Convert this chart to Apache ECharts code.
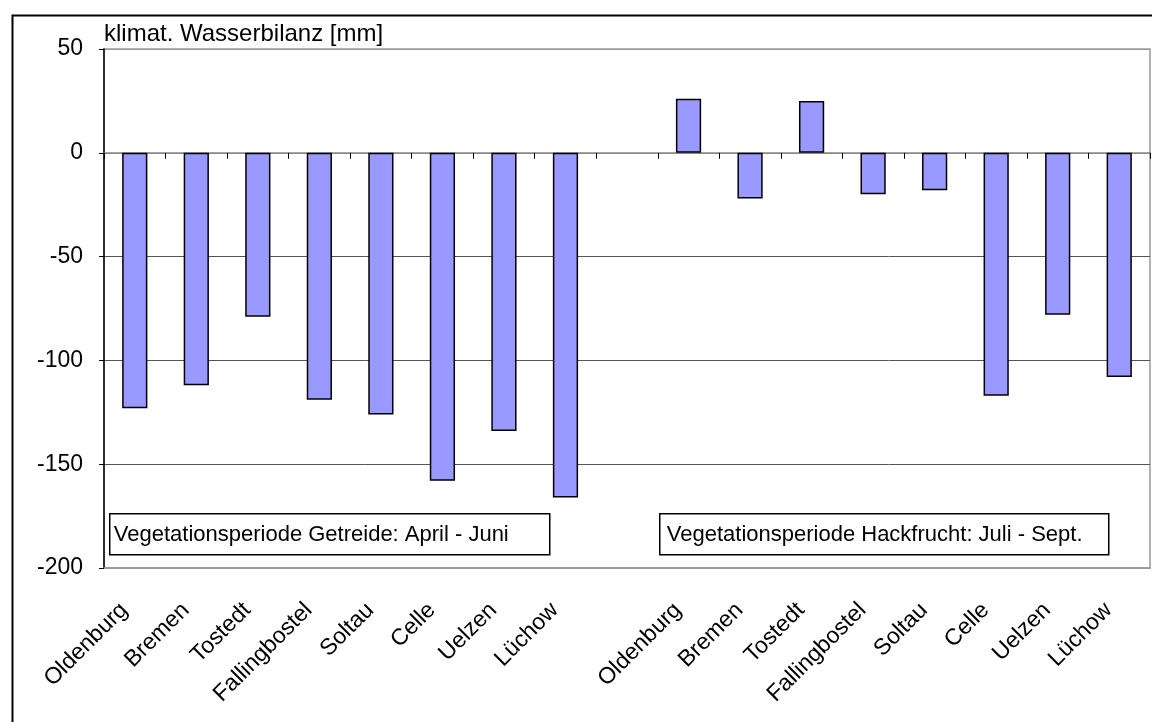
<!DOCTYPE html>
<html>
<head>
<meta charset="utf-8">
<script src="https://cdn.jsdelivr.net/npm/echarts@6/dist/echarts.min.js"></script>
<style>
html,body{margin:0;padding:0;background:#fff;}
#chart{width:1152px;height:722px;}
</style>
</head>
<body>
<div id="chart"></div>
<script>
var categories = ['Oldenburg','Bremen','Tostedt','Fallingbostel','Soltau','Celle','Uelzen','Lüchow','',
                  'Oldenburg','Bremen','Tostedt','Fallingbostel','Soltau','Celle','Uelzen','Lüchow'];
var valuesGetreide = [-123,-112,-79,-119,-126,-158,-134,-166];
var valuesHackfrucht = [26,-22,25,-20,-18,-117,-78,-108];
var yTicks = [-200,-150,-100,-50,0,50];
var axisTitle = 'klimat. Wasserbilanz [mm]';
var box1Text = 'Vegetationsperiode Getreide: April - Juni';
var box2Text = 'Vegetationsperiode Hackfrucht: Juli - Sept.';

var values = valuesGetreide.concat(['-'], valuesHackfrucht);

var FONT = '"Liberation Sans", Arial, sans-serif';
var chart = echarts.init(document.getElementById('chart'), null, {renderer:'canvas'});
chart.setOption({
  animation:false,
  backgroundColor:'#fff',
  textStyle:{fontFamily:FONT},
  grid:{left:104, top:49, width:1046, height:519, show:true, borderColor:'#999', borderWidth:1.5, backgroundColor:'transparent'},
  xAxis:[{
    type:'category', data:categories, position:'bottom',
    axisLine:{show:true, onZero:false, lineStyle:{color:'#999', width:1.5}},
    axisTick:{show:false},
    axisLabel:{rotate:45, interval:0, fontSize:23, color:'#000', fontFamily:FONT, margin:28, padding:[0,15,0,0]},
    splitLine:{show:false}
  },{
    type:'category', data:categories, position:'top',
    axisLine:{show:true, onZero:true, lineStyle:{color:'#888', width:1.5}},
    axisTick:{show:true, inside:true, length:6, interval:0, lineStyle:{color:'#000', width:1}},
    axisLabel:{show:false},
    splitLine:{show:false}
  }],
  yAxis:{
    type:'value', min:yTicks[0], max:yTicks[yTicks.length-1], interval:50,
    axisLine:{show:true, onZero:false, lineStyle:{color:'#000', width:1.5}},
    axisTick:{show:true, length:5, lineStyle:{color:'#000'}},
    axisLabel:{fontSize:23, color:'#000', fontFamily:FONT, margin:21,
      formatter:function(v){return String(v);}},
    splitLine:{show:true, lineStyle:{color:['#999','#555','#555','#555','#888','#999'], width:1}}
  },
  series:[{
    type:'bar', data:values, xAxisIndex:0, barWidth:'41%',
    itemStyle:{color:'#9999FF', borderColor:'#000', borderWidth:1.5},
    z:3
  }],
  graphic:[
    {type:'rect', left:10, top:13, shape:{x:0,y:0,width:1160,height:730}, style:{fill:'none', stroke:'#000', lineWidth:2}, z:100, silent:true},
    {type:'text', left:104, top:22, style:{text:axisTitle, fontSize:24, fill:'#000', fontFamily:FONT}, z:100},
    {type:'group', left:109, top:513, z:100, children:[
      {type:'rect', shape:{x:0,y:0,width:440,height:41}, style:{fill:'#fff', stroke:'#000', lineWidth:1.5}},
      {type:'text', x:4, y:21, style:{text:box1Text, fontSize:22, fill:'#000', fontFamily:FONT, verticalAlign:'middle'}}
    ]},
    {type:'group', left:659, top:513, z:100, children:[
      {type:'rect', shape:{x:0,y:0,width:449,height:41}, style:{fill:'#fff', stroke:'#000', lineWidth:1.5}},
      {type:'text', x:7, y:21, style:{text:box2Text, fontSize:22, fill:'#000', fontFamily:FONT, verticalAlign:'middle'}}
    ]}
  ]
});
</script>
</body>
</html>
